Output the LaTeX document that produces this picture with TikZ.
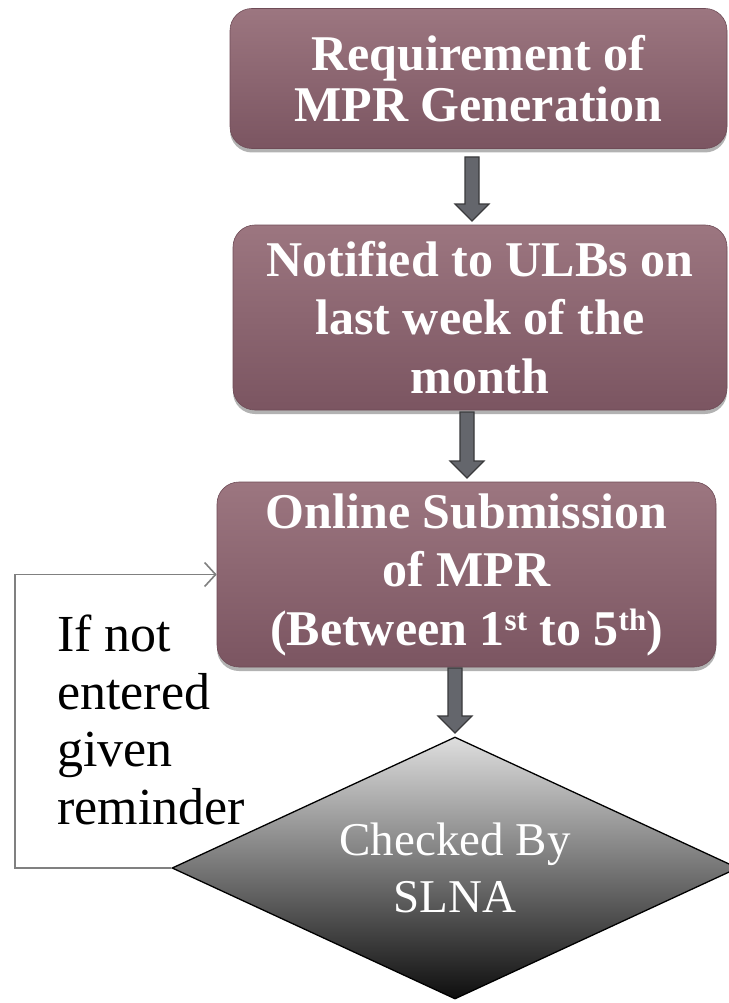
\documentclass[tikz,border=0pt]{standalone}
\usepackage{fontspec}
\setmainfont{Liberation Serif}
\usetikzlibrary{shapes.geometric,arrows.meta,shadows,calc}
\definecolor{boxtop}{RGB}{156,118,128}
\definecolor{boxbot}{RGB}{123,85,97}
\definecolor{arrfill}{RGB}{100,102,108}
\definecolor{arrdraw}{RGB}{58,58,60}
\definecolor{fbline}{RGB}{128,128,128}
\definecolor{diatop}{RGB}{222,222,222}
\definecolor{diabot}{RGB}{14,14,14}
\newcommand{\blockarrow}[2]{%
  \path[draw=arrdraw, fill=arrfill, line width=1.2pt] let \p1=(#1), \p2=(#2) in
  ({\x1-7pt},{\y1}) -- ({\x1+7pt},{\y1}) -- ({\x1+7pt},{\y2+17pt}) --
  ({\x1+17pt},{\y2+17pt}) -- ({\x1},{\y2}) -- ({\x1-17pt},{\y2+17pt}) --
  ({\x1-7pt},{\y2+17pt}) -- cycle;}
\newcommand{\mysup}[1]{\raisebox{15pt}{\fontsize{31}{31}\selectfont #1}}
\tikzset{
  procbox/.style={rectangle, rounded corners=22pt, top color=boxtop, bottom color=boxbot,
    draw=boxbot!90!black, line width=0.6pt, text=white, align=center, inner sep=0pt,
    font=\fontsize{50}{58.5}\selectfont\bfseries,
    drop shadow={shadow xshift=0pt, shadow yshift=-4pt, opacity=0.3, fill=black}},
  decision/.style={diamond, aspect=2.16, inner sep=0pt, top color=diatop, bottom color=diabot,
    draw=black, line width=1.3pt, text=white, align=center,
    font=\fontsize{47}{57}\selectfont},
  feedback/.style={draw=fbline, line width=1.6pt,
    -{Straight Barb[length=11pt,width=24pt,line width=1.6pt]}},
  sidelabel/.style={anchor=north west, align=left, inner sep=0pt,
    font=\fontsize{52}{57.5}\selectfont}
}
\begin{document}
\begin{tikzpicture}[x=1pt,y=-1pt]
\useasboundingbox (0,0) rectangle (728,1003);
\fill[white] (0,0) rectangle (728,1003);

\node[procbox, minimum width=497pt, minimum height=140pt,
      font=\fontsize{50}{51}\selectfont\bfseries] (b1) at (478.5,78.5)
      {Requirement of\\MPR Generation};
\node[procbox, minimum width=494pt, minimum height=185pt] (b2) at (480,317.5)
      {Notified to ULBs on\\last week of the\\month};
\node[procbox, minimum width=499pt, minimum height=185pt] (b3) at (466.5,574.5)
      {Online Submission\\of MPR\\(Between 1\mysup{st} to 5\mysup{th})};
\node[decision, minimum width=566pt, minimum height=262pt] (d) at (455,868)
      {Checked By\\SLNA};

\coordinate (a1s) at (472,157);
\coordinate (a1e) at (472,221);
\coordinate (a2s) at (467,412);
\coordinate (a2e) at (467,478);
\coordinate (a3s) at (455,668);
\coordinate (a3e) at (455,733);
\blockarrow{a1s}{a1e}
\blockarrow{a2s}{a2e}
\blockarrow{a3s}{a3e}

\coordinate (fb) at (15,868);
\draw[feedback] (d.west) -- (fb) |- (b3.west);

\node[sidelabel] (lbl) at (57,615) {If not\\entered\\given\\reminder};
\end{tikzpicture}
\end{document}
